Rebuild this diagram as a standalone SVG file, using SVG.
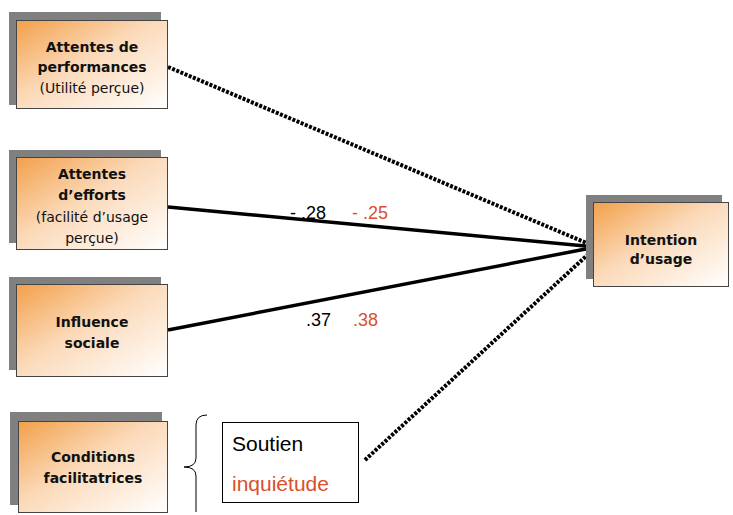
<svg xmlns="http://www.w3.org/2000/svg" width="733" height="515" viewBox="0 0 733 515">
<defs>
<linearGradient id="g" x1="0" y1="0" x2="1" y2="1">
<stop offset="0" stop-color="#f2a04a"/>
<stop offset="0.45" stop-color="#fbd9b8"/>
<stop offset="1" stop-color="#ffffff"/>
</linearGradient>
<marker id="ah" markerWidth="10" markerHeight="10" refX="9" refY="5" orient="auto" markerUnits="userSpaceOnUse">
<path d="M0,0 L10,5 L0,10 z" fill="#000"/>
</marker>
<style>
.sh{fill:#808080}
.bx{fill:url(#g);stroke:#444;stroke-width:1}
.t{font-family:"DejaVu Sans",Verdana,sans-serif;font-size:14px;fill:#111;text-anchor:middle}
.b{font-weight:bold}
.solid{stroke:#000;stroke-width:3.5;fill:none}
.dot{stroke:#000;stroke-width:4;fill:none;stroke-dasharray:3 1.5}
.lb{font-family:"Liberation Sans",Arial,sans-serif;font-size:18px}
.big{font-size:21px}
.red{fill:#d9502b}
</style>
</defs>
<g id="connectors">
<line class="dot" x1="168" y1="67" x2="596" y2="247" marker-end="url(#ah)"/>
<line class="solid" x1="168" y1="207" x2="596" y2="247" marker-end="url(#ah)"/>
<line class="solid" x1="168" y1="330" x2="596" y2="247" marker-end="url(#ah)"/>
<line class="dot" x1="365" y1="460" x2="596" y2="247" marker-end="url(#ah)"/>
<text class="lb" x="290" y="219">- .28</text>
<text class="lb red" x="352" y="219">- .25</text>
<text class="lb" x="306" y="326">.37</text>
<text class="lb red" x="353" y="326">.38</text>
</g>
<g id="n1">
<rect class="sh" x="9" y="12" width="152" height="93"/>
<rect class="bx" x="16.5" y="20.5" width="151" height="88"/>
<text class="t b" x="92" y="52">Attentes de</text>
<text class="t b" x="92" y="72">performances</text>
<text class="t" x="92" y="93">(Utilité perçue)</text>
</g>
<g id="n2">
<rect class="sh" x="9" y="150" width="152" height="93"/>
<rect class="bx" x="16.5" y="157.5" width="151" height="92"/>
<text class="t b" x="92" y="179">Attentes</text>
<text class="t b" x="92" y="200">d’efforts</text>
<text class="t" x="92" y="222">(facilité d’usage</text>
<text class="t" x="92" y="243">perçue)</text>
</g>
<g id="n3">
<rect class="sh" x="9" y="277" width="152" height="93"/>
<rect class="bx" x="16.5" y="284.5" width="151" height="92"/>
<text class="t b" x="92" y="327">Influence</text>
<text class="t b" x="92" y="348">sociale</text>
</g>
<g id="n4">
<rect class="sh" x="10" y="412" width="152" height="93"/>
<rect class="bx" x="18.5" y="421.5" width="149" height="91"/>
<text class="t b" x="93" y="462">Conditions</text>
<text class="t b" x="93" y="483">facilitatrices</text>
</g>
<g id="n5">
<rect class="sh" x="586" y="195" width="136" height="84"/>
<rect class="bx" x="593.5" y="202.5" width="135" height="84"/>
<text class="t b" x="661" y="245">Intention</text>
<text class="t b" x="661" y="264">d’usage</text>
</g>
<g id="brace">
<path d="M207,415 Q196,415 196,425 L196,458 Q196,467 184,467 Q196,467 196,476 L196,512" fill="none" stroke="#000" stroke-width="1"/>
</g>
<g id="n6">
<rect x="222.5" y="422.5" width="136" height="80" fill="#fff" stroke="#000" stroke-width="1"/>
<text class="lb big" x="232" y="451">Soutien</text>
<text class="lb big red" x="232" y="491">inquiétude</text>
</g>
</svg>
